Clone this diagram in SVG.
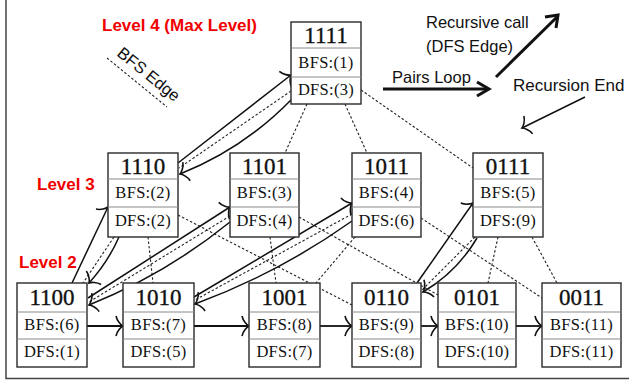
<svg xmlns="http://www.w3.org/2000/svg" width="629" height="383" viewBox="0 0 629 383">
  <style>
    .box { fill: #ffffff; stroke: #2a2a2a; stroke-width: 1.4; }
    .div { stroke: #8a8a8a; stroke-width: 1; }
    .title { font-family: "Liberation Serif", "DejaVu Serif", serif; font-size: 23px; fill: #111; stroke: #111; stroke-width: 0.35; text-anchor: middle; }
    .cell { font-family: "Liberation Serif", "DejaVu Serif", serif; font-size: 16.5px; fill: #111; text-anchor: middle; letter-spacing: 0.3px; }
    .lvl { font-family: "Liberation Sans", Arial, sans-serif; font-size: 17px; font-weight: bold; fill: #f00000; }
    .lgd { font-family: "Liberation Sans", Arial, sans-serif; font-size: 16.5px; fill: #111; }
    .dfs { fill: none; stroke: #111; stroke-width: 1.5; }
    .bfs { fill: none; stroke: #222; stroke-width: 1.1; stroke-dasharray: 2.5 2; }
    .seq { fill: none; stroke: #111; stroke-width: 1.8; }
  </style>
  <defs>
    <marker id="hook" viewBox="-11 -12 13 24" refX="0" refY="0" markerWidth="13" markerHeight="24" markerUnits="userSpaceOnUse" orient="auto" overflow="visible">
      <path d="M -7,-10 C -6,-5 -2,-1 0,0 C -2,1 -6,5 -7,10" fill="none" stroke="#111" stroke-width="1.6"/>
    </marker>
  </defs>

  <!-- frame -->
  <path d="M 6,0 L 6,378.5 L 629,378.5" fill="none" stroke="#444" stroke-width="1.5"/>

  <!-- level labels -->
  <text class="lvl" x="102" y="31">Level 4 (Max Level)</text>
  <text class="lvl" x="37" y="190">Level 3</text>
  <text class="lvl" x="19" y="268">Level 2</text>

  <!-- legend -->
  <g id="legend">
    <text class="lgd" transform="translate(116,55) rotate(39)">BFS Edge</text>
    <line class="bfs" x1="107" y1="58" x2="167" y2="107"/>
    <text class="lgd" x="426" y="28">Recursive call</text>
    <text class="lgd" x="426" y="52">(DFS Edge)</text>
    <text class="lgd" x="392" y="83">Pairs Loop</text>
    <text class="lgd" x="513" y="91" style="font-size:17px">Recursion End</text>
    <line x1="383" y1="89" x2="488" y2="89" stroke="#111" stroke-width="3"/>
    <polyline points="477,82 489,89 477,96" fill="none" stroke="#111" stroke-width="3"/>
    <line x1="496" y1="77" x2="557" y2="17" stroke="#111" stroke-width="3"/>
    <polyline points="545,17 558,15 556,28" fill="none" stroke="#111" stroke-width="3"/>
    <line x1="585" y1="97" x2="522" y2="128" class="dfs" marker-end="url(#hook)"/>
  </g>

  <!-- connectors -->
  <g id="connectors">
    <!-- BFS edges (dotted) -->
    <line class="bfs" x1="307" y1="104" x2="285" y2="153"/>
    <line class="bfs" x1="345" y1="104" x2="367" y2="153"/>
    <line class="bfs" x1="361" y1="90" x2="473" y2="168"/>
    <line class="bfs" x1="148" y1="237" x2="153" y2="283"/>
    <line class="bfs" x1="178" y1="215" x2="352" y2="305"/>
    <line class="bfs" x1="270" y1="237" x2="276" y2="283"/>
    <line class="bfs" x1="299" y1="217" x2="438" y2="295"/>
    <line class="bfs" x1="355" y1="237" x2="316" y2="283"/>
    <line class="bfs" x1="421" y1="218" x2="542" y2="298"/>
    <line class="bfs" x1="498" y1="237" x2="488" y2="283"/>
    <line class="bfs" x1="532" y1="237" x2="557" y2="283"/>

    <!-- 1100 <-> 1110 -->
    <line class="dfs" x1="72" y1="283" x2="108" y2="207" marker-end="url(#hook)"/>
    <line class="bfs" x1="114" y1="237" x2="83" y2="283"/>
    <path class="dfs" d="M 119,237 Q 108,262 89,283" marker-end="url(#hook)"/>

    <!-- 1110 <-> 1111 -->
    <line class="dfs" x1="178" y1="163" x2="291" y2="75" marker-end="url(#hook)"/>
    <line class="bfs" x1="291" y1="91" x2="179" y2="168"/>
    <path class="dfs" d="M 291,100 Q 243,149 180,174" marker-end="url(#hook)"/>

    <!-- 1100 <-> 1101 -->
    <line class="dfs" x1="88" y1="298" x2="230" y2="207" marker-end="url(#hook)"/>
    <line class="bfs" x1="230" y1="216" x2="89" y2="302"/>
    <path class="dfs" d="M 230,222 Q 166,274 89,305" marker-end="url(#hook)"/>

    <!-- 1010 <-> 1011 -->
    <line class="dfs" x1="194" y1="297" x2="352" y2="203" marker-end="url(#hook)"/>
    <line class="bfs" x1="352" y1="214" x2="195" y2="300"/>
    <path class="dfs" d="M 352,221 Q 279,273 195,304" marker-end="url(#hook)"/>

    <!-- 0110 <-> 0111 -->
    <line class="dfs" x1="417" y1="283" x2="473" y2="203" marker-end="url(#hook)"/>
    <line class="bfs" x1="475" y1="237" x2="422" y2="290"/>
    <path class="dfs" d="M 477,238 Q 457,272 423,292" marker-end="url(#hook)"/>

    <!-- pairs loop along level 2 -->
    <line class="seq" x1="87" y1="326" x2="123" y2="326" marker-end="url(#hook)"/>
    <line class="seq" x1="194" y1="326" x2="249" y2="326" marker-end="url(#hook)"/>
    <line class="seq" x1="320" y1="326" x2="352" y2="326" marker-end="url(#hook)"/>
    <line class="seq" x1="421" y1="326" x2="438" y2="326" marker-end="url(#hook)"/>
    <line class="seq" x1="516" y1="326" x2="542" y2="326" marker-end="url(#hook)"/>
  </g>

  <!-- level 4 -->
  <g id="n1111">
    <rect class="box" x="291" y="22" width="70" height="82"/>
    <line class="div" x1="291" y1="48" x2="361" y2="48"/>
    <line class="div" x1="291" y1="77" x2="361" y2="77"/>
    <text class="title" x="326" y="43">1111</text>
    <text class="cell" x="326" y="68">BFS:(1)</text>
    <text class="cell" x="326" y="95">DFS:(3)</text>
  </g>

  <!-- level 3 -->
  <g id="n1110">
    <rect class="box" x="108" y="153" width="70" height="84"/>
    <line class="div" x1="108" y1="179" x2="178" y2="179"/>
    <line class="div" x1="108" y1="207" x2="178" y2="207"/>
    <text class="title" x="143" y="174">1110</text>
    <text class="cell" x="143" y="198">BFS:(2)</text>
    <text class="cell" x="143" y="226">DFS:(2)</text>
  </g>
  <g id="n1101">
    <rect class="box" x="230" y="153" width="69" height="84"/>
    <line class="div" x1="230" y1="179" x2="299" y2="179"/>
    <line class="div" x1="230" y1="207" x2="299" y2="207"/>
    <text class="title" x="264.5" y="174">1101</text>
    <text class="cell" x="264.5" y="198">BFS:(3)</text>
    <text class="cell" x="264.5" y="226">DFS:(4)</text>
  </g>
  <g id="n1011">
    <rect class="box" x="352" y="153" width="69" height="84"/>
    <line class="div" x1="352" y1="179" x2="421" y2="179"/>
    <line class="div" x1="352" y1="207" x2="421" y2="207"/>
    <text class="title" x="386.5" y="174">1011</text>
    <text class="cell" x="386.5" y="198">BFS:(4)</text>
    <text class="cell" x="386.5" y="226">DFS:(6)</text>
  </g>
  <g id="n0111">
    <rect class="box" x="473" y="153" width="70" height="84"/>
    <line class="div" x1="473" y1="179" x2="543" y2="179"/>
    <line class="div" x1="473" y1="207" x2="543" y2="207"/>
    <text class="title" x="508" y="174">0111</text>
    <text class="cell" x="508" y="198">BFS:(5)</text>
    <text class="cell" x="508" y="226">DFS:(9)</text>
  </g>

  <!-- level 2 -->
  <g id="n1100">
    <rect class="box" x="17" y="283" width="70" height="84"/>
    <line class="div" x1="17" y1="312" x2="87" y2="312"/>
    <line class="div" x1="17" y1="339" x2="87" y2="339"/>
    <text class="title" x="52" y="305">1100</text>
    <text class="cell" x="52" y="330">BFS:(6)</text>
    <text class="cell" x="52" y="357">DFS:(1)</text>
  </g>
  <g id="n1010">
    <rect class="box" x="123" y="283" width="71" height="84"/>
    <line class="div" x1="123" y1="312" x2="194" y2="312"/>
    <line class="div" x1="123" y1="339" x2="194" y2="339"/>
    <text class="title" x="158.5" y="305">1010</text>
    <text class="cell" x="158.5" y="330">BFS:(7)</text>
    <text class="cell" x="158.5" y="357">DFS:(5)</text>
  </g>
  <g id="n1001">
    <rect class="box" x="249" y="283" width="71" height="84"/>
    <line class="div" x1="249" y1="312" x2="320" y2="312"/>
    <line class="div" x1="249" y1="339" x2="320" y2="339"/>
    <text class="title" x="284.5" y="305">1001</text>
    <text class="cell" x="284.5" y="330">BFS:(8)</text>
    <text class="cell" x="284.5" y="357">DFS:(7)</text>
  </g>
  <g id="n0110">
    <rect class="box" x="352" y="283" width="69" height="84"/>
    <line class="div" x1="352" y1="312" x2="421" y2="312"/>
    <line class="div" x1="352" y1="339" x2="421" y2="339"/>
    <text class="title" x="386.5" y="305">0110</text>
    <text class="cell" x="386.5" y="330">BFS:(9)</text>
    <text class="cell" x="386.5" y="357">DFS:(8)</text>
  </g>
  <g id="n0101">
    <rect class="box" x="438" y="283" width="78" height="84"/>
    <line class="div" x1="438" y1="312" x2="516" y2="312"/>
    <line class="div" x1="438" y1="339" x2="516" y2="339"/>
    <text class="title" x="477" y="305">0101</text>
    <text class="cell" x="477" y="330">BFS:(10)</text>
    <text class="cell" x="477" y="357">DFS:(10)</text>
  </g>
  <g id="n0011">
    <rect class="box" x="542" y="283" width="79" height="84"/>
    <line class="div" x1="542" y1="312" x2="621" y2="312"/>
    <line class="div" x1="542" y1="339" x2="621" y2="339"/>
    <text class="title" x="581.5" y="305">0011</text>
    <text class="cell" x="581.5" y="330">BFS:(11)</text>
    <text class="cell" x="581.5" y="357">DFS:(11)</text>
  </g>
</svg>
